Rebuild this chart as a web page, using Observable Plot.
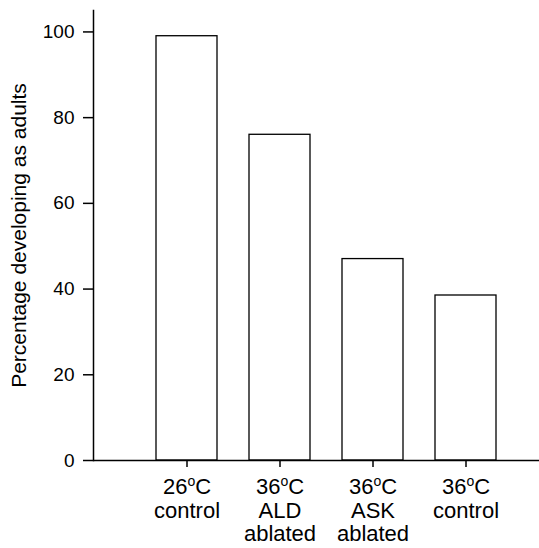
<!DOCTYPE html>
<html>
<head>
<meta charset="utf-8">
<script src="https://cdn.jsdelivr.net/npm/d3@7"></script>
<script src="https://cdn.jsdelivr.net/npm/@observablehq/plot@0.6"></script>
<style>
  html, body { margin: 0; padding: 0; background: white; }
</style>
</head>
<body>
<div id="chart"></div>
<script>
const categories = ["26°C\ncontrol", "36°C\nALD\nablated", "36°C\nASK\nablated", "36°C\ncontrol"];
const values = [99, 76, 47, 38.5];
const yTicks = [0, 20, 40, 60, 80, 100];
const yLabel = "Percentage developing as adults";

const data = categories.map((c, i) => ({category: c, value: values[i]}));

const chart = Plot.plot({
  width: 539,
  height: 548,
  marginLeft: 93,
  marginRight: 0,
  marginTop: 10,
  marginBottom: 88,
  style: {fontFamily: "'Liberation Sans', Arial, sans-serif", fontSize: "20px", background: "white", color: "black"},
  x: {domain: categories, range: [140.5, 512.5], paddingInner: 0.344, paddingOuter: 0.172, align: 0.5},
  y: {domain: [0, 105]},
  marks: [
    Plot.barY(data, {x: "category", y: "value", fill: "white", stroke: "black", strokeWidth: 1.3}),
    Plot.axisY({ticks: yTicks, tickSize: 10, tickPadding: 9, label: null, fontSize: 19, strokeWidth: 1.5}),
    Plot.axisY({ticks: [], tickSize: 0, label: yLabel, labelAnchor: "center", labelArrow: "none", labelOffset: 82, fontSize: 21}),
    Plot.axisX({tickSize: 7, tickPadding: 10, label: null, fontSize: 22, lineHeight: 1.07, strokeWidth: 1.5}),
    Plot.ruleY([0], {strokeWidth: 1.5}),
    Plot.frame({anchor: "left", strokeWidth: 1.5})
  ]
});
document.getElementById("chart").appendChild(chart);

// Render the degree sign as a superscript "o", as in the original figure
d3.select(chart).selectAll("text tspan, text").each(function () {
  if (this.childElementCount > 0) return;
  const t = this.textContent;
  const i = t.indexOf("°");
  if (i < 0) return;
  const el = d3.select(this);
  el.text(t.slice(0, i));
  el.append("tspan").attr("font-size", "14px").attr("dy", "-8").text("o");
  el.append("tspan").attr("dy", "8").text(t.slice(i + 1));
});
</script>
</body>
</html>
